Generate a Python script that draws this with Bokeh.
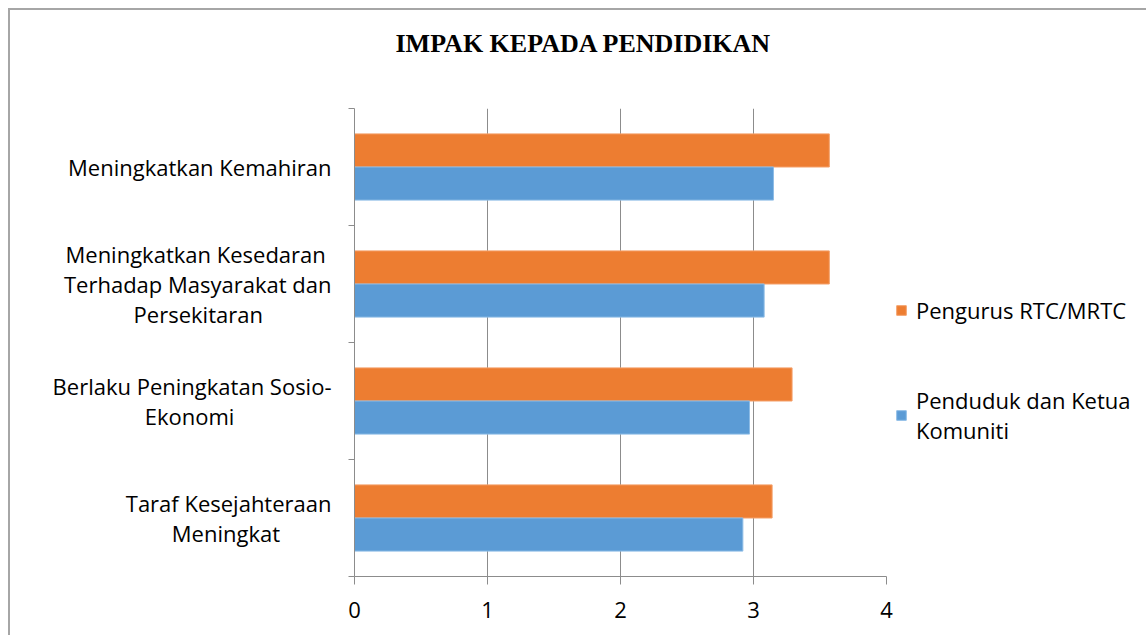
import numpy as np
from bokeh.plotting import figure
from bokeh.models import ColumnDataSource, Range1d, FixedTicker, Legend, LegendItem, Title
from bokeh.transform import dodge
from bokeh.embed import file_html
from bokeh.resources import INLINE

NB = "\u00a0"
title_text = "IMPAK KEPADA PENDIDIKAN"
categories = [
    "Taraf Kesejahteraan\nMeningkat" + NB * 9,
    "Berlaku Peningkatan Sosio-\nEkonomi" + NB * 17,
    "Meningkatkan Kesedaran" + NB + "\nTerhadap Masyarakat dan\nPersekitaran" + NB * 12,
    "Meningkatkan Kemahiran",
]
pengurus = [3.14, 3.29, 3.57, 3.57]
penduduk = [2.92, 2.97, 3.08, 3.15]
series_names = ["Pengurus RTC/MRTC", "Penduduk dan Ketua\nKomuniti"]
x_ticks = [0, 1, 2, 3, 4]

ORANGE = "#ED7D31"
BLUE = "#5B9BD5"
GRID = "#8C8C8C"
FONT = "Open Sans"
FS = "22px"

pos = list(np.arange(len(categories)) + 0.5)
src = ColumnDataSource(dict(y=pos, pengurus=pengurus, penduduk=penduduk))

p = figure(frame_width=532, frame_height=468, output_backend="svg", toolbar_location=None,
           x_range=Range1d(0, 4), y_range=Range1d(0, len(categories)),
           min_border_left=344, min_border_right=260, min_border_top=98, min_border_bottom=59)
p.styles = {"border-left": "2px solid #A6A6A6", "border-top": "2px solid #A6A6A6",
            "margin-left": "8px", "margin-top": "8px"}

bh = 0.283
r1 = p.hbar(y=dodge("y", bh / 2, range=p.y_range), right="pengurus", left=0, height=bh, source=src,
            fill_color=ORANGE, line_color="#F4A06A", line_width=1)
r2 = p.hbar(y=dodge("y", -bh / 2, range=p.y_range), right="penduduk", left=0, height=bh, source=src,
            fill_color=BLUE, line_color="#8DBCE6", line_width=1)

# spacer between plot area and title, then the title itself
p.add_layout(Title(text=NB, text_font_size="1px", standoff=48), "above")
p.add_layout(Title(text=title_text, align="left", offset=41, standoff=0,
                   text_font="Liberation Serif", text_font_style="bold",
                   text_font_size="26px", text_color="#000000"), "above")

p.outline_line_color = None
p.ygrid.grid_line_color = None
p.xgrid.grid_line_color = GRID
p.xgrid.grid_line_width = 1
p.xgrid.ticker = FixedTicker(ticks=x_ticks)

xa = p.xaxis[0]
xa.ticker = FixedTicker(ticks=x_ticks)
xa.axis_line_color = GRID
xa.major_tick_line_color = GRID
xa.major_tick_out = 8
xa.major_tick_in = 0
xa.minor_tick_line_color = None
xa.major_label_text_font = FONT
xa.major_label_text_font_size = FS
xa.major_label_text_color = "#000000"
xa.major_label_standoff = 17

ya = p.yaxis[0]
ya.ticker = FixedTicker(ticks=pos, minor_ticks=list(range(len(categories) + 1)))
ya.major_label_overrides = {float(v): c for v, c in zip(pos, categories)}
ya.axis_line_color = GRID
ya.major_tick_line_color = None
ya.minor_tick_line_color = GRID
ya.minor_tick_out = 6
ya.minor_tick_in = 0
ya.major_label_text_font = FONT
ya.major_label_text_font_size = FS
ya.major_label_text_color = "#000000"
ya.major_label_text_line_height = 1.0
ya.major_label_standoff = 17

legend = Legend(items=[LegendItem(label=series_names[0], renderers=[r1]),
                       LegendItem(label=series_names[1], renderers=[r2])],
                location=(9, 131), orientation="vertical")
legend.label_text_font = FONT
legend.label_text_font_size = FS
legend.label_text_color = "#000000"
legend.label_text_line_height = 1.3
legend.glyph_width = 12
legend.glyph_height = 12
legend.label_standoff = 9
legend.spacing = 60
legend.padding = 0
legend.margin = 0
legend.border_line_color = None
legend.background_fill_alpha = 0
p.add_layout(legend, "right")

open("out.html", "w").write(file_html(p, INLINE))
